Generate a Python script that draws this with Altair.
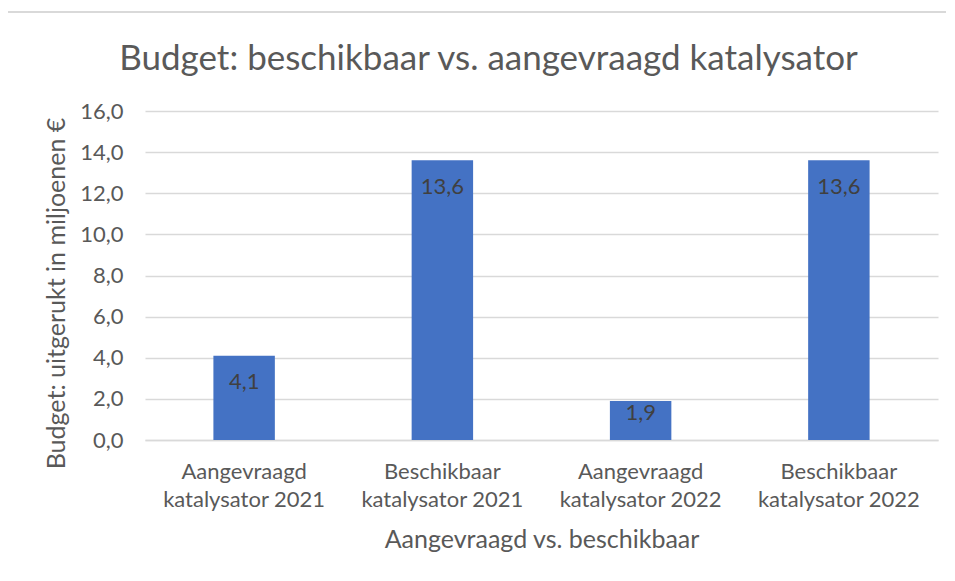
import altair as alt
import pandas as pd

categories = ["Aangevraagd katalysator 2021", "Beschikbaar katalysator 2021",
              "Aangevraagd katalysator 2022", "Beschikbaar katalysator 2022"]
values = [4.1, 13.6, 1.9, 13.6]
y_ticks = [0, 2, 4, 6, 8, 10, 12, 14, 16]

df = pd.DataFrame({"cat": categories, "val": values})

FONT = "Lato"
TXT = "#595959"

x = alt.X("cat:N", sort=categories,
          scale=alt.Scale(paddingInner=0.69, paddingOuter=0.345),
          axis=alt.Axis(title="Aangevraagd vs. beschikbaar",
                        labelExpr="split(replace(datum.label, ' katalysator', '| katalysator'), '|')",
                        labelAngle=0, labelFontSize=22, labelColor=TXT, labelFont=FONT,
                        labelLineHeight=28, labelPadding=21, labelBaseline="top",
                        ticks=False, domain=True, domainColor="#D9D9D9", domainWidth=1.5,
                        titleFontSize=25, titleColor=TXT, titleFont=FONT, titleFontWeight="normal",
                        titlePadding=17, grid=False))
y = alt.Y("val:Q", scale=alt.Scale(domain=[0, 16]),
          axis=alt.Axis(title="Budget: uitgerukt in miljoenen €", values=y_ticks,
                        labelExpr="replace(format(datum.value, '.1f'), '.', ',')",
                        labelFontSize=22, labelColor=TXT, labelFont=FONT, labelPadding=22,
                        ticks=False, domain=False, gridColor="#D9D9D9", gridWidth=1.5,
                        titleFontSize=25, titleColor=TXT, titleFont=FONT, titleFontWeight="normal",
                        titlePadding=10, titleY=182))

bars = alt.Chart(df).mark_bar(color="#4472C4").encode(x=x, y=y)
labels = alt.Chart(df).transform_calculate(
    lbl="replace(format(datum.val, '.1f'), '.', ',')",
    ypos="max(datum.val - 1.32, datum.val * 0.69)"
).mark_text(baseline="middle", fontSize=22, color="#404040", font=FONT).encode(
    x=alt.X("cat:N", sort=categories), y="ypos:Q", text="lbl:N")

border_top = alt.Chart(df).mark_rule(color="#D9D9D9", strokeWidth=1.5).encode(
    x=alt.value(-138), x2=alt.value(830), y=alt.value(-99))
border_left = alt.Chart(df).mark_rule(color="#D9D9D9", strokeWidth=1.5).encode(
    x=alt.value(-138), y=alt.value(-99), y2=alt.value(470))

chart = alt.layer(bars, labels, border_top, border_left).properties(
    width=793, height=329,
    title=alt.TitleParams("Budget: beschikbaar vs. aangevraagd katalysator",
                          fontSize=35, font=FONT, color=TXT, fontWeight="normal",
                          anchor="middle", dx=-53, offset=-66),
    padding={"left": 137, "top": 103, "right": 8, "bottom": 125},
    autosize=alt.AutoSizeParams(type="none"),
).configure_view(stroke=None)

chart.save("out.html", embed_options={"renderer": "svg", "actions": False})
